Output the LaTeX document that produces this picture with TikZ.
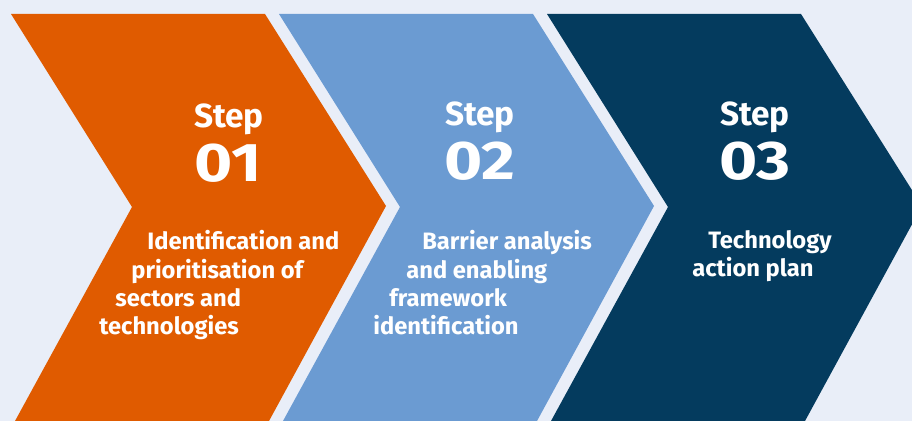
\documentclass[tikz,border=0pt]{standalone}
\usepackage{fontspec}
\setmainfont{Fira Sans}

\definecolor{pagebg}{RGB}{233,238,248}
\definecolor{steporange}{RGB}{224,91,0}
\definecolor{stepblue}{RGB}{107,155,210}
\definecolor{stepnavy}{RGB}{4,59,94}

% wide step numbers
\newcommand{\stepno}[1]{\scalebox{1.2}[1]{#1}}

\begin{document}
\begin{tikzpicture}
        [x=0.02cm, y=-0.02cm,
        steplabel/.style = {text=white, anchor=base, inner sep=0pt,
        font=\bfseries\fontsize{19}{19}\selectfont},
        stepnum/.style = {text=white, anchor=base, inner sep=0pt,
        font=\bfseries\fontsize{31}{31}\selectfont},
        steptext/.style = {text=white, anchor=north west, inner sep=0pt,
        align=left, font=\bfseries\fontsize{13.5}{16.2}\selectfont}]

        % Background
        \fill[pagebg] (0,0) rectangle (912,421);
        \useasboundingbox (0,0) rectangle (912,421);

        % Chevron 1
        \fill[steporange] (11,14) -- (265,14) -- (386,206) -- (269,421)
            -- (15,421) -- (132,207) -- cycle;

        % Chevron 2
        \fill[stepblue, shift={(268,0)}] (11,14) -- (265,14) -- (386,206)
            -- (269,421) -- (15,421) -- (132,207) -- cycle;

        % Chevron 3
        \fill[stepnavy, shift={(536,0)}] (11,14) -- (265,14) -- (386,206)
            -- (269,421) -- (15,421) -- (132,207) -- cycle;

        % Step headings
        \node[steplabel] (s1) at (229,128) {Step};
        \node[stepnum] (n1) at (228,182) {\stepno{01}};
        \node[steplabel] (s2) at (480,126) {Step};
        \node[stepnum] (n2) at (480,180) {\stepno{02}};
        \node[steplabel] (s3) at (755,126) {Step};
        \node[stepnum] (n3) at (755,180) {\stepno{03}};

        % Step descriptions
        \node[steptext] (d1) at (99,230)
            {\hspace*{0.96cm}Identification and\\
             \hspace*{0.64cm}prioritisation of\\
             \hspace*{0.32cm}sectors and\\
             technologies};
        \node[steptext] (d2) at (373,230)
            {\hspace*{0.98cm}Barrier analysis\\
             \hspace*{0.66cm}and enabling\\
             \hspace*{0.32cm}framework\\
             identification};
        \node[steptext] (d3) at (692,230)
            {\hspace*{0.32cm}Technology\\
             action plan};
    \end{tikzpicture}
\end{document}
